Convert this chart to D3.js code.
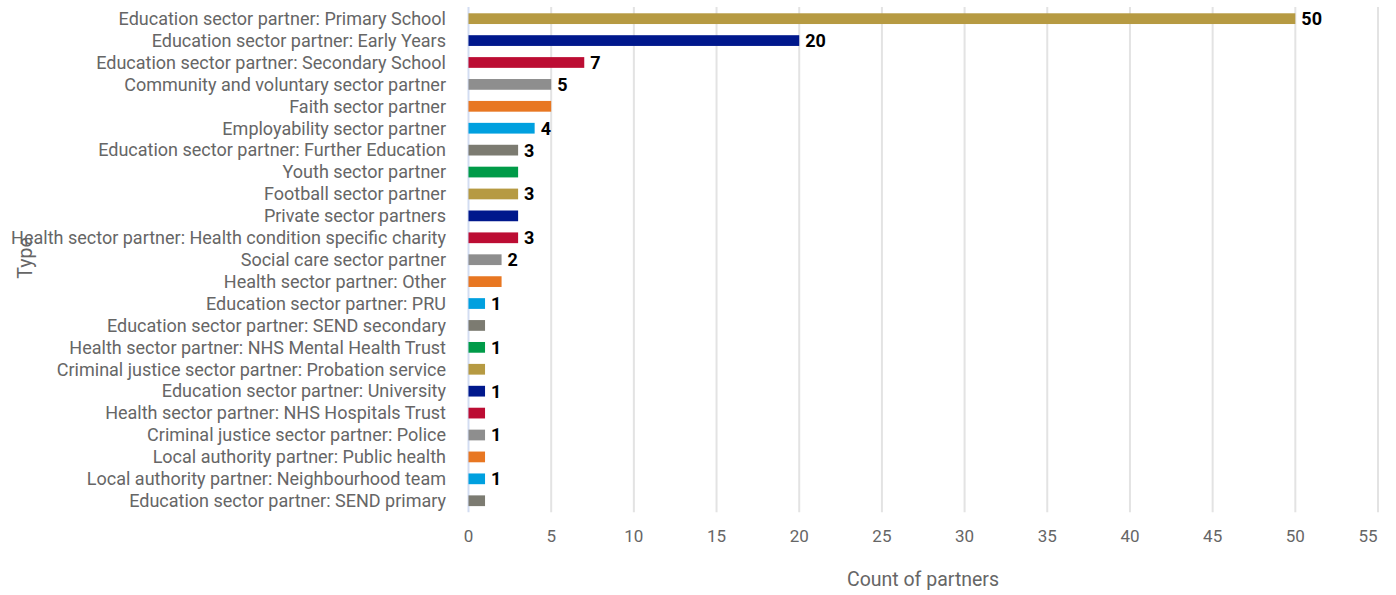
<!DOCTYPE html>
<html>
<head>
<meta charset="utf-8">
<script src="https://cdn.jsdelivr.net/npm/d3@7"></script>
<style>
  html, body { margin: 0; padding: 0; background: #fff; }
  svg { display: block; font-family: Roboto, "Noto Sans", sans-serif; }
</style>
</head>
<body>
<svg id="chart" width="1396" height="595"></svg>
<script>
// Partner types and how many partners of each type
const categories = [
  "Education sector partner: Primary School",
  "Education sector partner: Early Years",
  "Education sector partner: Secondary School",
  "Community and voluntary sector partner",
  "Faith sector partner",
  "Employability sector partner",
  "Education sector partner: Further Education",
  "Youth sector partner",
  "Football sector partner",
  "Private sector partners",
  "Health sector partner: Health condition specific charity",
  "Social care sector partner",
  "Health sector partner: Other",
  "Education sector partner: PRU",
  "Education sector partner: SEND secondary",
  "Health sector partner: NHS Mental Health Trust",
  "Criminal justice sector partner: Probation service",
  "Education sector partner: University",
  "Health sector partner: NHS Hospitals Trust",
  "Criminal justice sector partner: Police",
  "Local authority partner: Public health",
  "Local authority partner: Neighbourhood team",
  "Education sector partner: SEND primary"
];
const counts = [50, 20, 7, 5, 5, 4, 3, 3, 3, 3, 3, 2, 2, 1, 1, 1, 1, 1, 1, 1, 1, 1, 1];
// Which bars carry a value label
const showLabel = [true, true, true, true, false, true, true, false, true, false, true, true, false,
                   true, false, true, false, true, false, true, false, true, false];
const xTicks = [0, 5, 10, 15, 20, 25, 30, 35, 40, 45, 50, 55];
const palette = ["#b69a42", "#00188c", "#bc0d33", "#8e8e8e", "#e87722", "#00a0df", "#7c7b71", "#009b48"];

const svg = d3.select("#chart");
const plotLeft = 468.5, plotRight = 1378, plotTop = 7.7, plotBottom = 511.7;

const x = d3.scaleLinear().domain([0, 55]).range([plotLeft, plotRight]);
const y = d3.scaleBand().domain(categories).range([plotTop, plotBottom])
  .paddingInner(0.51).paddingOuter(0.255);
const color = d3.scaleOrdinal().domain(categories).range(palette);

// vertical gridlines
svg.append("g").selectAll("line").data(xTicks).join("line")
  .attr("x1", d => x(d)).attr("x2", d => x(d))
  .attr("y1", plotTop - 0.7).attr("y2", plotBottom + 0.5)
  .attr("stroke", d => d === 0 ? "#d3ddf2" : "#e3e3e3")
  .attr("stroke-width", 2);

// bars
svg.append("g").selectAll("rect").data(categories).join("rect")
  .attr("x", x(0))
  .attr("y", d => y(d))
  .attr("width", (d, i) => x(counts[i]) - x(0))
  .attr("height", y.bandwidth())
  .attr("fill", d => color(d));

// value labels
svg.append("g").selectAll("text").data(categories.filter((d, i) => showLabel[i])).join("text")
  .attr("x", d => x(counts[categories.indexOf(d)]) + 6)
  .attr("y", d => y(d) + y.bandwidth() / 2)
  .attr("dy", "0.36em")
  .attr("font-size", 18)
  .attr("font-weight", "bold")
  .attr("fill", "#000")
  .text(d => counts[categories.indexOf(d)]);

// category axis labels
svg.append("g").selectAll("text").data(categories).join("text")
  .attr("x", 446)
  .attr("y", d => y(d) + y.bandwidth() / 2)
  .attr("dy", "0.35em")
  .attr("text-anchor", "end")
  .attr("font-size", 18)
  .attr("fill", "#666")
  .text(d => d);

// value axis tick labels
svg.append("g").selectAll("text").data(xTicks).join("text")
  .attr("x", (d, i) => i === xTicks.length - 1 ? x(d) - 10 : x(d))
  .attr("y", 542)
  .attr("text-anchor", "middle")
  .attr("font-size", 17)
  .attr("fill", "#666")
  .text(d => d);

// axis titles
svg.append("text")
  .attr("x", 923).attr("y", 586)
  .attr("text-anchor", "middle")
  .attr("font-size", 19.5)
  .attr("fill", "#666")
  .text("Count of partners");

svg.append("text")
  .attr("transform", "translate(32,258) rotate(-90)")
  .attr("text-anchor", "middle")
  .attr("font-size", 19.5)
  .attr("fill", "#666")
  .text("Type");
</script>
</body>
</html>
